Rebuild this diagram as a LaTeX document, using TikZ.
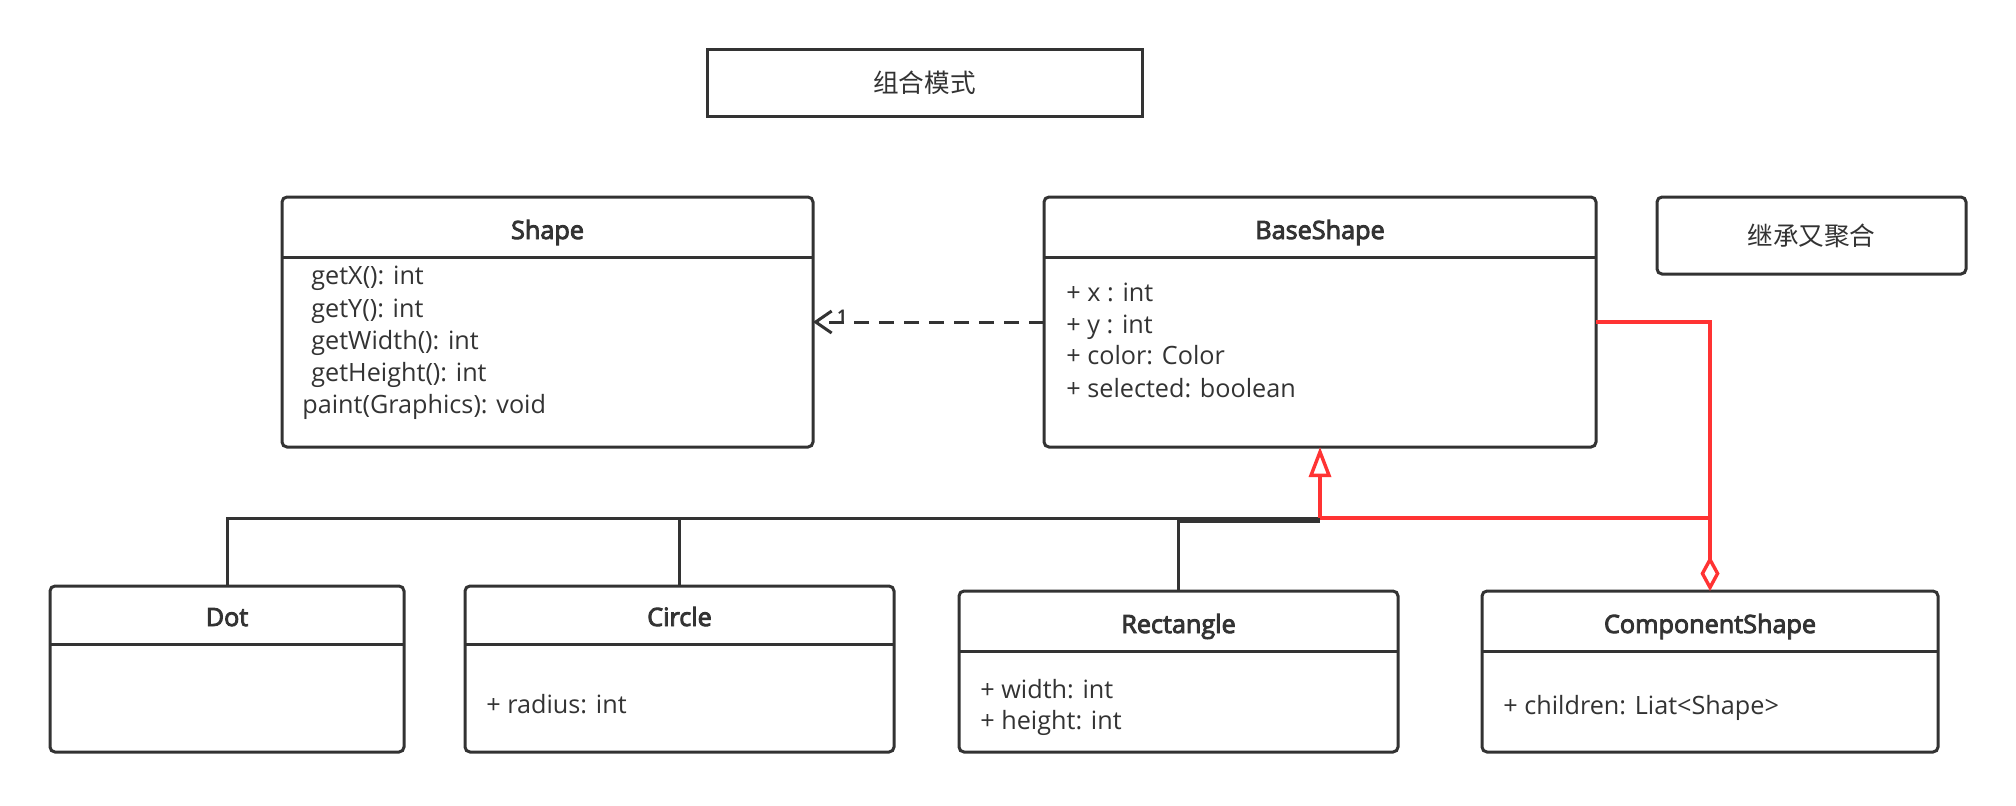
\documentclass[tikz,border=0pt]{standalone}
\usepackage{fontspec}
\setmainfont{Open Sans}
\newfontfamily\cjk{Noto Sans CJK SC}
\newfontfamily\semib{Open Sans}[FakeBold=3.5]
\usetikzlibrary{arrows.meta}
\definecolor{ink}{RGB}{51,51,51}
\definecolor{rel}{RGB}{255,51,51}
\begin{document}
\begin{tikzpicture}[x=0.5pt,y=-0.5pt,
  umlbox/.style={draw=ink, line width=1.5pt, rounded corners=2.5pt, inner sep=0pt, outer sep=0pt},
  ttl/.style={font=\semib\fontsize{12.6}{14}\selectfont, text=ink, anchor=base, inner sep=0pt},
  attr/.style={font=\fontsize{12.6}{14}\selectfont, text=ink, anchor=base west, inner sep=0pt},
  divider/.style={draw=ink, line width=1.5pt},
  conn/.style={draw=ink, line width=1.5pt},
  redconn/.style={draw=rel, line width=1.7pt},
  cjklabel/.style={font=\cjk\fontsize{12.8}{14}\selectfont, text=ink},
]
\useasboundingbox[fill=white] (0,0) rectangle (2016,805);

% header boxes
\node[draw=ink, line width=1.5pt, minimum width=217.5pt, minimum height=33.5pt, inner sep=0pt, cjklabel] (title) at (924.5,82.5) {组合模式};
\node[umlbox, minimum width=154.5pt, minimum height=38.5pt, cjklabel] (note) at (1811.5,235.5) {继承又聚合};

% Shape
\node[umlbox, minimum width=265.5pt, minimum height=125pt] (shape) at (547.5,322) {};
\draw[divider] (shape.west |- 0,257) -- (shape.east |- 0,257);
\node[ttl] (shapeT) at (547.5,239) {Shape};
\node[attr] (s1) at (311,284) {getX(): int};
\node[attr] (s2) at (311,317) {getY(): int};
\node[attr] (s3) at (311,349) {getWidth(): int};
\node[attr] (s4) at (311,381) {getHeight(): int};
\node[attr] (s5) at (302,413) {paint(Graphics): void};

% BaseShape
\node[umlbox, minimum width=276pt, minimum height=125pt] (bs) at (1320,322) {};
\draw[divider] (bs.west |- 0,257) -- (bs.east |- 0,257);
\node[ttl] (bsT) at (1320,239) {BaseShape};
\node[attr] (b1) at (1066,301) {+ x : int};
\node[attr] (b2) at (1066,333) {+ y : int};
\node[attr] (b3) at (1066,364) {+ color: Color};
\node[attr] (b4) at (1066,397) {+ selected: boolean};

% Dot
\node[umlbox, minimum width=177pt, minimum height=83pt] (dot) at (227,669) {};
\draw[divider] (dot.west |- 0,644) -- (dot.east |- 0,644);
\node[ttl] (dotT) at (227,626) {Dot};

% Circle
\node[umlbox, minimum width=214.5pt, minimum height=83pt] (circ) at (679.5,669) {};
\draw[divider] (circ.west |- 0,644) -- (circ.east |- 0,644);
\node[ttl] (circT) at (679.5,626) {Circle};
\node[attr] (c1) at (486,713) {+ radius: int};

% Rectangle
\node[umlbox, minimum width=219.5pt, minimum height=80.5pt] (rect) at (1178.5,671.5) {};
\draw[divider] (rect.west |- 0,651) -- (rect.east |- 0,651);
\node[ttl] (rectT) at (1178.5,633) {Rectangle};
\node[attr] (r1) at (980,698) {+ width: int};
\node[attr] (r2) at (980,729) {+ height: int};

% ComponentShape
\node[umlbox, minimum width=228pt, minimum height=80.5pt] (comp) at (1710,671.5) {};
\draw[divider] (comp.west |- 0,651) -- (comp.east |- 0,651);
\node[ttl] (compT) at (1710,633) {ComponentShape};
\node[attr] (k1) at (1503,714) {+ children: Liat<Shape>};

% realization (dashed)
\draw[conn, dash pattern=on 7.5pt off 5pt, -{Straight Barb[length=8pt,width=11pt]}] (bs.west) -- (shape.east);
\node[font=\bfseries\fontsize{8}{9}\selectfont, text=ink, inner sep=0pt] (one) at (842,316) {1};

% inheritance bus
\coordinate (bus) at (1320,518);
\coordinate (bus2) at (1320,521);
\draw[conn] (dot.north) |- (bus);
\draw[conn] (circ.north) -- (circ.north |- bus);
\draw[conn] (rect.north) |- (bus2);

% red connectors
\draw[redconn, -{Triangle[open, length=15pt, width=11pt]}] (bus) -- (bs.south);
\draw[redconn] (bus) -- (bus -| comp.north);
\draw[redconn, -{Diamond[open, length=17.5pt, width=9.5pt]}] (bs.east) -| (comp.north);
\end{tikzpicture}
\end{document}
